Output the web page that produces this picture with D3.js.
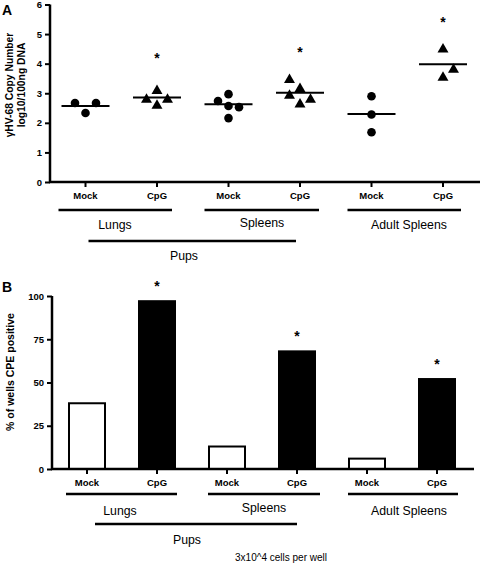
<!DOCTYPE html>
<html><head><meta charset="utf-8">
<script src="https://cdn.jsdelivr.net/npm/d3@7"></script>
<style>
body{margin:0;background:#fff;}
svg{display:block;font-family:"Liberation Sans",Arial,sans-serif;}
</style></head>
<body>
<svg id="chart" width="480" height="565"></svg>
<script>
// ---- data ----
const categories = ["Mock","CpG","Mock","CpG","Mock","CpG"];
const groups = ["Lungs","Spleens","Adult Spleens"];
const superGroup = "Pups";
const copyNumberValues = [
  [2.67,2.67,2.33],
  [2.80,3.10,2.60,2.80],
  [2.74,2.97,2.57,2.53,2.16],
  [3.47,3.17,2.94,2.64,2.80],
  [2.90,2.28,1.68],
  [4.50,3.82,3.55]
];
const jitterSlots = [
  [-1,1,0],
  [-1,0,0,1],
  [-1,0,0,1,0],
  [-1,0,-1,0,1],
  [0,0,0],
  [0,1,0]
];
const medians = [2.57,2.86,2.63,3.02,2.30,3.98];
const starValuesA = [null,4.2,null,4.4,null,5.4];
const ticksA = [0,1,2,3,4,5,6];
const cpeValues = [38,97,13,68,6,52];
const significantB = [false,true,false,true,false,true];
const ticksB = [0,25,50,75,100];

const svg = d3.select("#chart");

function drawStar(g, cx, cy){
  g.append("text").attr("x",cx).attr("y",cy+5).attr("text-anchor","middle")
    .attr("font-size",14).attr("font-weight","bold").text("*");
}

// ---------- Panel A ----------
const xA = d3.scalePoint().domain(d3.range(categories.length)).range([85.5,443]);
const yA = d3.scaleLinear().domain([0,6]).range([182,4.5]);
const gA = svg.append("g");

svg.append("text").attr("x",2).attr("y",15).attr("font-size",14).attr("font-weight","bold").text("A");

const yAxisA = d3.axisLeft(yA).tickValues(ticksA).tickSize(5).tickPadding(3).tickFormat(d3.format("d"));
const yaxA = gA.append("g").attr("transform","translate(50,0)").call(yAxisA);
yaxA.select(".domain").attr("stroke-width",2.5).attr("d","M0,"+yA(6)+"V"+(yA(0)+1));
yaxA.selectAll(".tick line").attr("stroke-width",2);
yaxA.selectAll(".tick text").attr("font-size",9.5).attr("font-weight","bold").attr("font-family","Liberation Sans, Arial");

const xaxA = gA.append("g").attr("transform","translate(0,182)");
xaxA.append("line").attr("x1",49).attr("x2",480).attr("y1",0).attr("y2",0).attr("stroke","#000").attr("stroke-width",2.5);
categories.forEach((c,i)=>{
  xaxA.append("line").attr("x1",xA(i)).attr("x2",xA(i)).attr("y1",0).attr("y2",5).attr("stroke","#000").attr("stroke-width",2);
  xaxA.append("text").attr("x",xA(i)).attr("y",17).attr("text-anchor","middle").attr("font-size",9.5).attr("font-weight","bold").text(c);
});

const ylA = gA.append("text").attr("transform","translate(0,"+85+") rotate(-90)").attr("text-anchor","middle").attr("font-size",10.3).attr("font-weight","bold");
ylA.append("tspan").attr("x",0).attr("y",13).text("γHV-68 Copy Number");
ylA.append("tspan").attr("x",0).attr("y",25).text("log10/100ng DNA");

const slotW = 10.5;
copyNumberValues.forEach((vals,i)=>{
  const isCpG = categories[i]==="CpG";
  vals.forEach((v,j)=>{
    const cx = xA(i)+jitterSlots[i][j]*slotW, cy = yA(v);
    if(isCpG){
      gA.append("path").attr("d",d3.symbol().type(d3.symbolTriangle).size(52)()).attr("transform","translate("+cx+","+(cy+0.5)+")").attr("fill","#000");
    } else {
      gA.append("circle").attr("cx",cx).attr("cy",cy).attr("r",4.3).attr("fill","#000");
    }
  });
  gA.append("line").attr("x1",xA(i)-24).attr("x2",xA(i)+24).attr("y1",yA(medians[i])).attr("y2",yA(medians[i])).attr("stroke","#000").attr("stroke-width",2);
  if(starValuesA[i]!==null) drawStar(gA, xA(i), yA(starValuesA[i]));
});

function groupAnnot(g, lineY, labelY, pupsLineY, pupsLabelY, spans, labelX, pupsSpan, pupsX){
  groups.forEach((name,k)=>{
    g.append("line").attr("x1",spans[k][0]).attr("x2",spans[k][1]).attr("y1",lineY).attr("y2",lineY).attr("stroke","#000").attr("stroke-width",2.5);
    g.append("text").attr("x",labelX[k]).attr("y",labelY[k]).attr("text-anchor","middle").attr("font-size",12.3).text(name);
  });
  g.append("line").attr("x1",pupsSpan[0]).attr("x2",pupsSpan[1]).attr("y1",pupsLineY).attr("y2",pupsLineY).attr("stroke","#000").attr("stroke-width",2.5);
  g.append("text").attr("x",pupsX).attr("y",pupsLabelY).attr("text-anchor","middle").attr("font-size",12.3).text(superGroup);
}
groupAnnot(gA, 210, [229,227,229], 241, 260,
  [[xA(0)-27,xA(1)+15],[xA(2)-24,xA(3)+19],[xA(4)-24,xA(5)+18]],
  [115,262,409], [xA(0)+3,xA(3)-4], 184);

// ---------- Panel B ----------
const xB = d3.scalePoint().domain(d3.range(categories.length)).range([87,437]);
const yB = d3.scaleLinear().domain([0,100]).range([469,296]);
const gB = svg.append("g");
svg.append("text").attr("x",2).attr("y",292).attr("font-size",14).attr("font-weight","bold").text("B");

const barW = 36;
cpeValues.forEach((v,i)=>{
  const isCpG = categories[i]==="CpG";
  gB.append("rect").attr("x",xB(i)-barW/2).attr("y",yB(v)).attr("width",barW).attr("height",yB(0)-yB(v))
    .attr("fill",isCpG?"#000":"#fff").attr("stroke","#000").attr("stroke-width",2);
  if(significantB[i]) drawStar(gB, xB(i), yB(v)-15);
});

const yAxisB = d3.axisLeft(yB).tickValues(ticksB).tickSize(5).tickPadding(3);
const yaxB = gB.append("g").attr("transform","translate(52,0)").call(yAxisB);
yaxB.select(".domain").attr("stroke-width",2.5).attr("d","M0,"+yB(100)+"V"+(yB(0)+1));
yaxB.selectAll(".tick line").attr("stroke-width",2);
yaxB.selectAll(".tick text").attr("font-size",9.5).attr("font-weight","bold").attr("font-family","Liberation Sans, Arial");

const xaxB = gB.append("g").attr("transform","translate(0,469)");
xaxB.append("line").attr("x1",51).attr("x2",474).attr("y1",0).attr("y2",0).attr("stroke","#000").attr("stroke-width",2.5);
categories.forEach((c,i)=>{
  xaxB.append("line").attr("x1",xB(i)).attr("x2",xB(i)).attr("y1",0).attr("y2",5).attr("stroke","#000").attr("stroke-width",2);
  xaxB.append("text").attr("x",xB(i)).attr("y",17).attr("text-anchor","middle").attr("font-size",9.5).attr("font-weight","bold").text(c);
});

gB.append("text").attr("transform","translate(14,372) rotate(-90)").attr("text-anchor","middle").attr("font-size",10.5).attr("font-weight","bold").text("% of wells CPE positive");

groupAnnot(gB, 494, [515,512,515], 524, 544,
  [[xB(0)-21,xB(1)+20],[xB(2)-19,xB(3)+23],[xB(4)-19,xB(5)+21]],
  [120,264,409], [xB(0)+8,xB(3)], 187);

gB.append("text").attr("x",281).attr("y",561).attr("text-anchor","middle").attr("font-size",10).text("3x10^4 cells per well");
</script>
</body></html>
